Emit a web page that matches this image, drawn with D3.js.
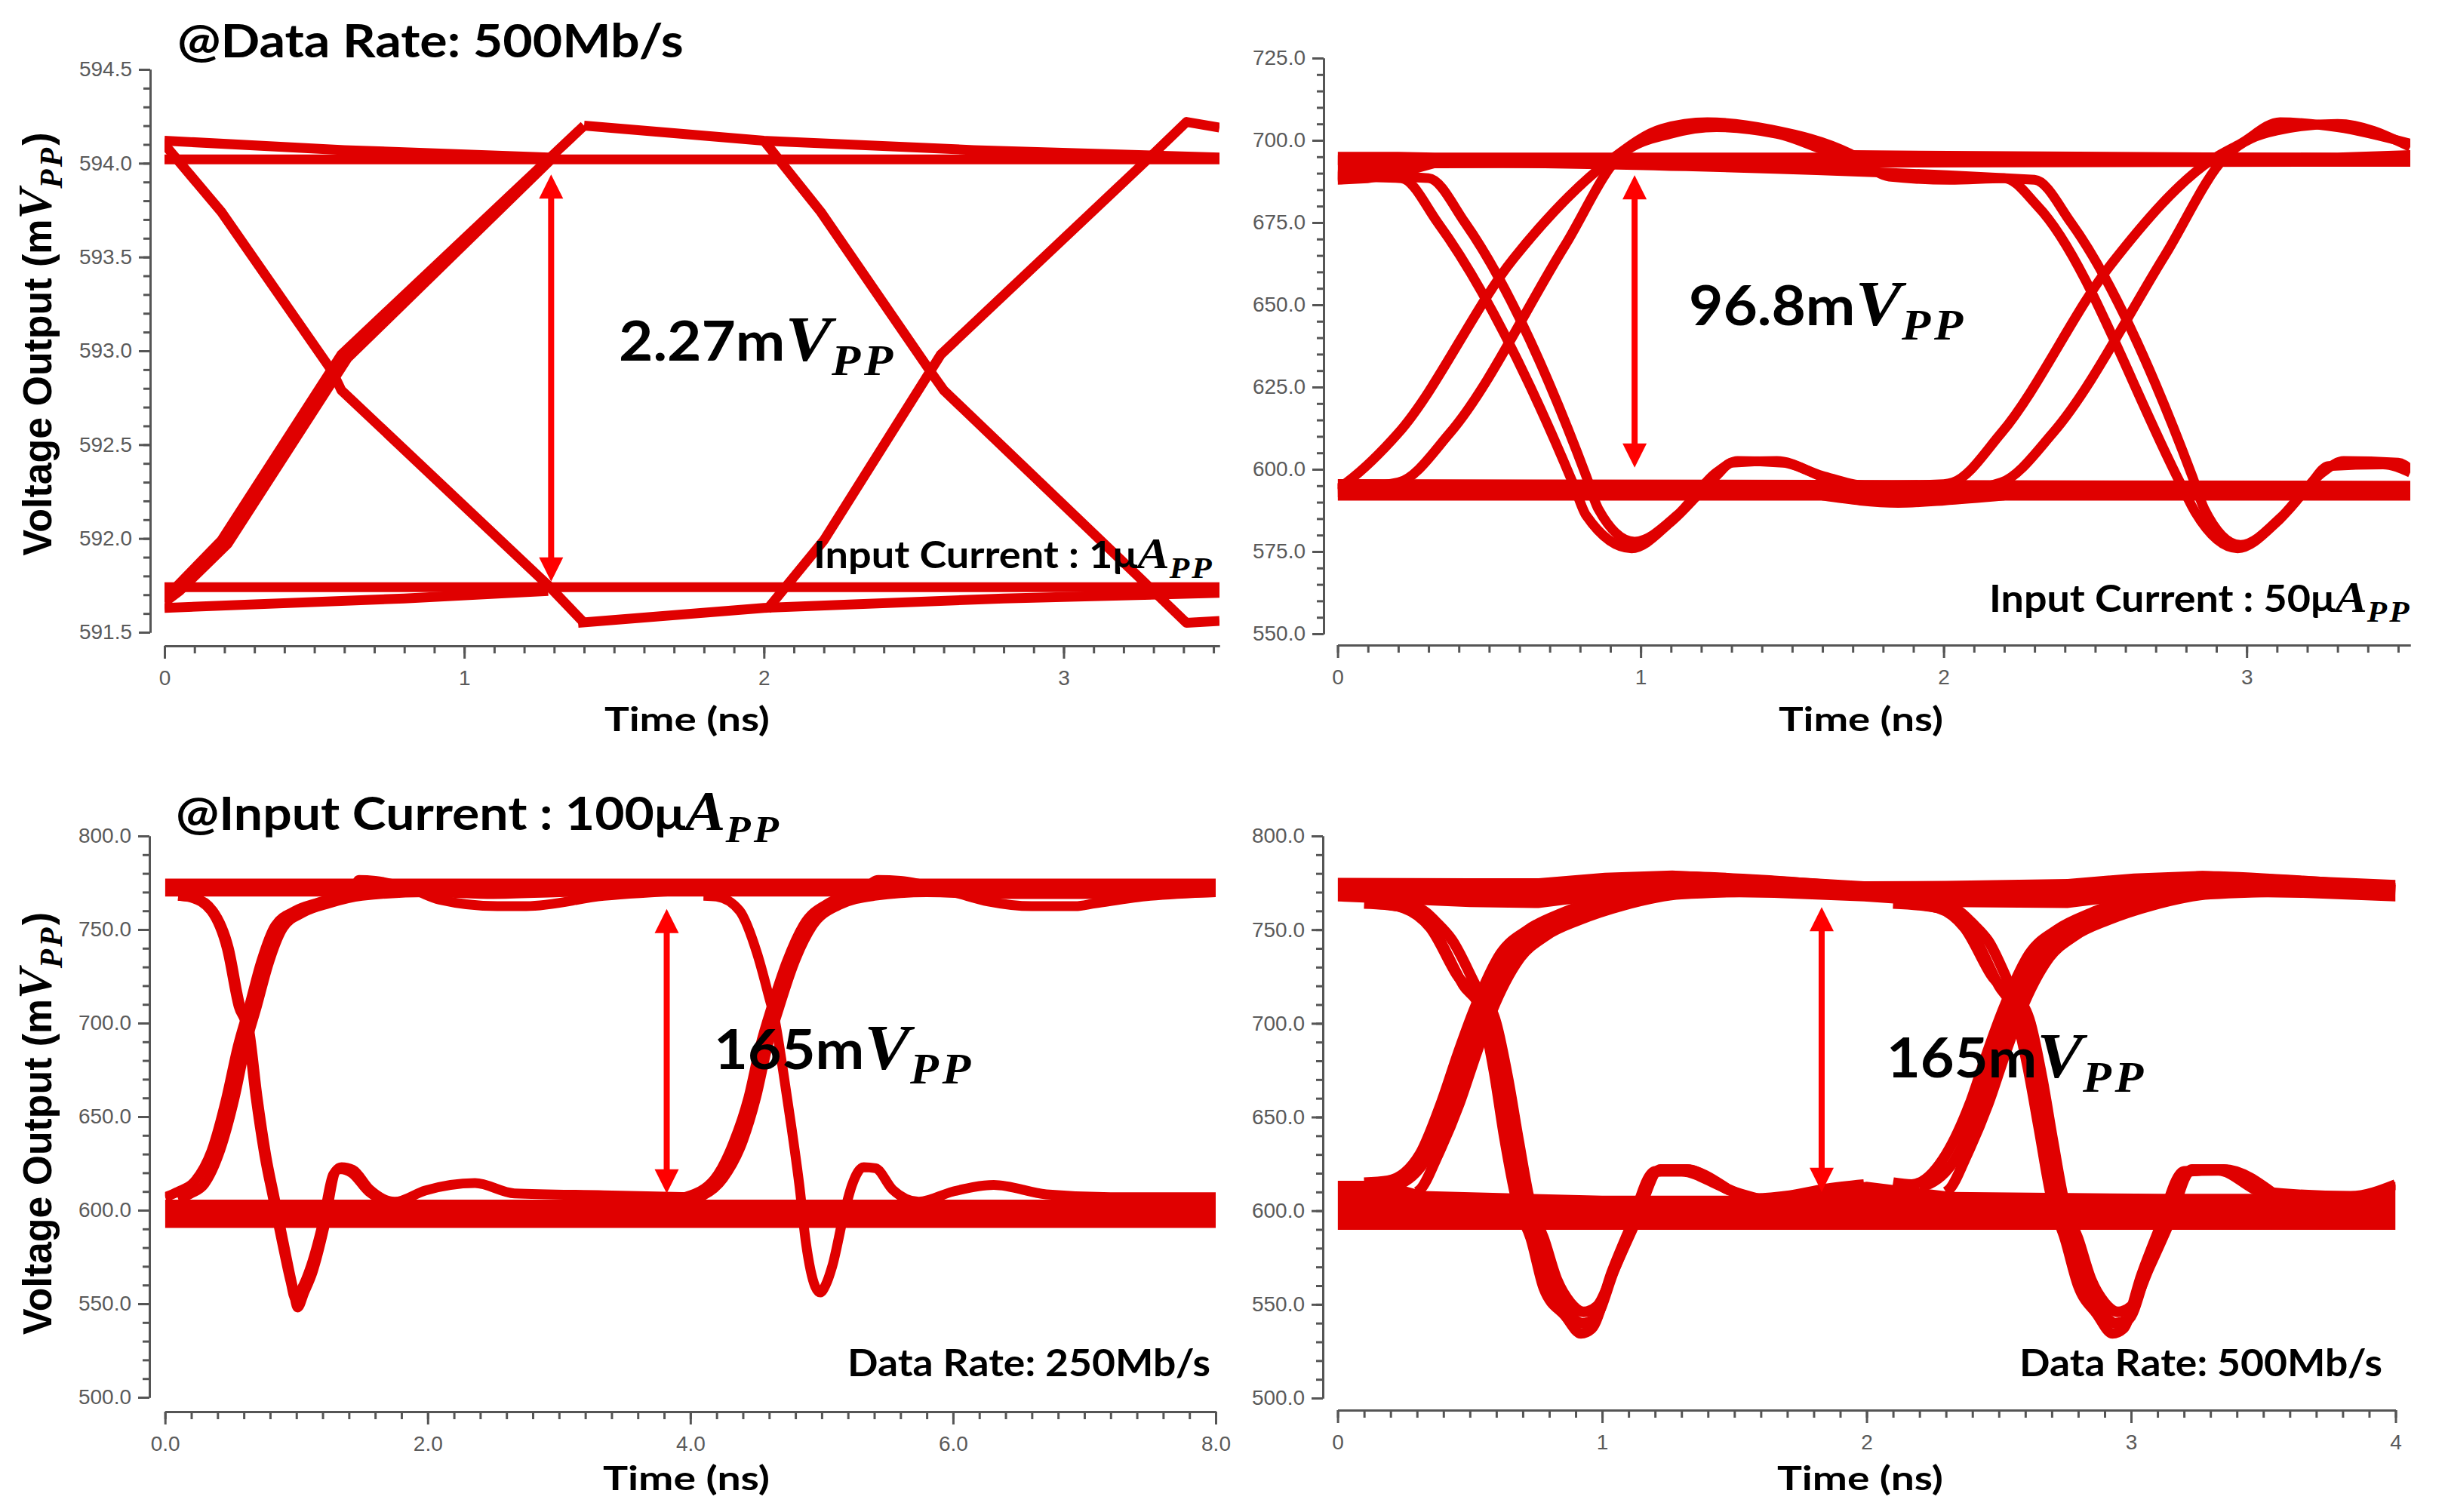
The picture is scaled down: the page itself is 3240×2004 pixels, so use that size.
<!DOCTYPE html>
<html><head><meta charset="utf-8">
<script src="https://cdn.jsdelivr.net/npm/d3@7"></script>
<style>body{margin:0;background:#fff}svg{display:block}</style>
</head><body>
<svg id="c" width="3240" height="2004"></svg>
<script>
// ---------------- DATA ----------------
// Panel 1 : 1 uApp, 500 Mb/s  (time ns, mV)
const p1YTicks = [591.5, 592.0, 592.5, 593.0, 593.5, 594.0, 594.5];
const p1XTicks = [0, 1, 2, 3];
const p1Bands = [];
const p1Traces = [
  [[0,594.02],[3.52,594.02]],
  [[0,594.12],[0.6,594.07],[1.3,594.03]],
  [[1.40,594.2],[2.0,594.12],[2.7,594.07],[3.52,594.03]],
  [[0,591.74],[3.52,591.74]],
  [[0,591.63],[0.8,591.68],[1.28,591.72]],
  [[1.38,591.55],[2.0,591.63],[2.8,591.68],[3.52,591.71]],
  [[0,591.69],[0.02,591.71],[0.19,591.99],[0.59,592.98],[1.28,594.02],[1.40,594.2]],
  [[0,591.66],[0.05,591.72],[0.21,591.97],[0.61,592.96],[1.29,594.02]],
  [[0,594.1],[0.19,593.74],[0.56,592.89],[0.59,592.79],[1.28,591.75],[1.40,591.55]],
  [[2.01,591.62],[2.2,591.99],[2.59,592.98],[3.28,594.02],[3.41,594.22],[3.52,594.19]],
  [[2.0,594.12],[2.19,593.74],[2.56,592.88],[2.6,592.79],[3.28,591.75],[3.41,591.55],[3.52,591.56]]
];
const p1Arrow = [1.29, 593.94, 591.77];

// Panel 2 : 50 uApp, 500 Mb/s
const p2YTicks = [550, 575, 600, 625, 650, 675, 700, 725];
const p2XTicks = [0, 1, 2, 3];
const p2Bands = [
  [[0,686.5,696.5],[0.1,687,696.5],[0.2,688.5,696.5],[0.32,691.5,696.3],[3.3,692,696.3],[3.54,692,697]],
  [[0,590.5,597],[3.54,590.5,596.5]]
];
const p2Traces = [
  [[0,594],[0.03,596],[0.2,611],[0.58,664],[0.9,694],[1.07,703.5],[1.22,705.5],[1.43,703.3],[1.69,696],[1.82,689],[2.02,688],[2.2,688.5],[2.31,680],[2.78,596],[2.83,587],[2.97,576],[3.1,584],[3.21,595.5],[3.27,601],[3.45,601.5],[3.54,599]],
  [[0,594],[0.2,596],[0.37,611],[0.75,668],[0.94,696],[1.1,702],[1.25,704],[1.45,702],[1.69,695.5],[3.54,694.5]],
  [[0,689],[0.21,688.5],[0.33,675],[0.78,595],[0.82,586],[0.97,576],[1.1,584],[1.25,598],[1.3,602],[1.45,602.5],[1.6,598],[1.75,595],[2.0,595.5],[2.03,596],[2.19,611],[2.55,662],[2.89,694.4],[2.98,699],[3.11,705.5],[3.3,704],[3.54,699]],
  [[0,689.5],[0.3,688.5],[0.42,675],[0.82,598],[0.86,588],[0.98,578],[1.12,586],[1.25,599],[1.32,602.5],[1.47,602],[1.62,597],[1.8,594],[3.54,594]],
  [[0,593],[2.0,593],[2.19,596],[2.36,611],[2.73,665],[2.93,695],[3.1,703],[3.3,705],[3.54,698]],
  [[0,694],[2.3,688],[2.42,675],[2.82,598],[2.86,588],[2.98,577],[3.12,586],[3.25,599],[3.32,602.5],[3.5,602],[3.54,600]],
  [[1.6,592],[1.85,589.8],[2.0,590.5],[2.2,592]]
];
const p2Arrow = [0.98, 689.4, 600.5];

// Panel 3 : 100 uApp, 250 Mb/s
const p3YTicks = [500, 550, 600, 650, 700, 750, 800];
const p3XTicks = [0, 2, 4, 6, 8];
const p3Bands = [
  [[0,767.6,777.2],[8,767.6,777.2]],
  [[0,590.5,605.6],[8,590.5,605.6]]
];
const p3Traces = [
  [[0.1,768],[0.22,767],[0.365,760],[0.486,740],[0.574,709],[0.64,696.8],[0.706,659.7],[0.772,628.8],[0.838,605.6],[0.904,582.5],[0.97,560],[1.01,548],[1.06,556],[1.124,567],[1.21,590],[1.3,621],[1.344,623],[1.43,621.6],[1.56,611],[1.75,604.5],[1.98,610.5],[2.36,614.5],[2.66,609],[3.34,608],[4.0,607]],
  [[0.1,768],[0.2,767],[0.35,760],[0.47,740],[0.56,709],[0.625,697],[0.69,660],[0.757,629],[0.823,606],[0.89,583],[0.955,562],[0.99,553],[1.04,558],[1.11,570],[1.2,593],[1.28,619],[1.33,622],[1.42,620],[1.55,610],[1.75,604]],
  [[0,607],[0.1,610],[0.22,615],[0.355,632],[0.465,659.7],[0.553,687.5],[0.64,709],[0.728,732],[0.838,752],[0.99,760],[1.17,764.5],[1.43,770],[1.476,776.5],[1.6,776],[1.9,771],[2.09,766],[2.53,762.5],[2.75,762.5],[3.34,768],[4.0,771]],
  [[0.1,606],[0.2,609],[0.3,614],[0.42,632],[0.53,660],[0.615,688],[0.7,709],[0.79,732],[0.9,751],[1.05,759],[1.25,764],[1.5,768],[2.0,770],[2.5,769],[3.0,770],[4.0,771]],
  [[4.1,768],[4.2,767.6],[4.375,760],[4.51,736.8],[4.6,713.7],[4.64,702.8],[4.705,675],[4.77,644.2],[4.83,613.3],[4.88,582.5],[4.95,559.3],[4.99,556],[5.03,560],[5.08,570],[5.17,598],[5.23,613.3],[5.32,623],[5.41,622.4],[5.54,611],[5.74,604.5],[6.0,610],[6.31,613.5],[6.71,608.5],[7.2,607],[8.0,607]],
  [[3.9,606],[3.96,607.1],[4.18,616.4],[4.33,636.5],[4.44,659.7],[4.53,687.5],[4.62,709],[4.73,732.1],[4.86,752.2],[5.06,764.5],[5.3,770],[5.43,776.5],[5.6,776],[6.0,770],[6.27,765],[6.6,762.5],[6.93,762.5],[7.08,764],[7.5,768],[8.0,770]],
  [[4.0,606],[4.1,608],[4.25,617],[4.4,637],[4.5,660],[4.59,688],[4.68,709],[4.79,732],[4.93,752],[5.13,763],[5.4,768],[5.8,770],[6.3,769],[7.0,769],[8.0,770]]
];
const p3Arrow = [3.82, 761, 609];

// Panel 4 : 100 uApp, 500 Mb/s
const p4YTicks = [500, 550, 600, 650, 700, 750, 800];
const p4XTicks = [0, 1, 2, 3, 4];
const p4Bands = [
  [[0,765.1,777.7],[0.5,762,777.5],[0.76,761.5,777.5],[1.01,766,780.4],[1.265,767.8,781.6],[1.65,767,778.7],[1.99,765.1,775.8],[2.3,762,776],[2.76,761.5,777],[3.01,766,780],[3.27,767.8,781.4],[3.65,767,778.7],[4.0,765.1,776.5]],
  [[0,589.8,616],[0.18,589.8,616],[0.32,589.8,610.5],[1.0,589.8,608],[1.7,589.8,608],[1.84,589.8,612],[2.0,589.8,615.5],[2.2,589.8,612],[2.32,589.8,610],[3.12,589.8,609],[3.51,589.8,609],[3.83,589.8,608.5],[4.0,589.8,615.4]]
];
const p4Traces = [
  [[0.1,615],[0.19,616],[0.31,630],[0.39,657],[0.455,684],[0.515,707],[0.615,737],[0.72,750],[0.85,759],[1.01,767],[1.265,778.5],[1.65,776],[2.0,772]],
  [[0.2,613],[0.24,614.5],[0.345,630],[0.425,657],[0.49,684],[0.55,707],[0.65,736],[0.755,749],[0.88,757],[1.05,765],[1.3,772],[1.7,773],[2.0,771]],
  [[0.3,610],[0.31,611],[0.38,630],[0.46,657],[0.525,684],[0.585,707],[0.685,734],[0.79,747],[0.91,755],[1.08,763],[1.3,769],[1.8,771]],
  [[0.1,764],[0.18,763.3],[0.31,759.7],[0.375,747.1],[0.476,720.2],[0.54,707.6],[0.59,675.2],[0.63,639.3],[0.68,603.3],[0.73,585.3],[0.78,558.4],[0.86,544],[0.92,534.5],[0.96,537],[1.037,567.4],[1.1,589],[1.2,621],[1.3,621],[1.46,612.5],[1.58,606.5],[1.71,608],[1.84,611.5],[1.99,614]],
  [[0.2,764],[0.3,762],[0.38,753],[0.43,745],[0.53,718],[0.6,700],[0.645,670],[0.685,637],[0.73,603],[0.78,585],[0.83,563],[0.88,551],[0.93,546],[0.98,549],[1.05,570],[1.12,592],[1.22,622],[1.32,622],[1.48,611],[1.6,606]],
  [[0.15,764],[0.25,761.5],[0.35,751],[0.45,726],[0.57,704],[0.62,672],[0.66,638],[0.71,603],[0.76,585],[0.81,560],[0.87,546],[0.925,540],[0.97,542],[1.045,568],[1.11,590],[1.21,621],[1.31,622],[1.47,612]],
  [[2.1,615],[2.17,614],[2.3,630],[2.39,657],[2.455,684],[2.515,707],[2.615,737],[2.72,750],[2.85,759],[3.01,767],[3.27,778.5],[3.65,776],[4.0,772]],
  [[2.2,613],[2.24,614.5],[2.345,630],[2.425,657],[2.49,684],[2.55,707],[2.65,736],[2.755,749],[2.88,757],[3.05,765],[3.3,772],[3.7,773],[4.0,771]],
  [[2.3,610],[2.31,611],[2.38,630],[2.46,657],[2.525,684],[2.585,707],[2.685,734],[2.79,747],[2.91,755],[3.08,763],[3.3,769],[3.8,771]],
  [[2.1,764],[2.2,763],[2.31,760],[2.41,745.4],[2.5,720],[2.56,706],[2.61,676],[2.65,645],[2.7,606],[2.75,585],[2.8,560],[2.87,545],[2.93,534.5],[2.97,537],[3.04,566],[3.1,588],[3.2,621],[3.33,621.5],[3.5,610],[3.83,607.7],[4.0,614]],
  [[2.2,764],[2.32,762],[2.41,752],[2.46,744],[2.55,718],[2.62,700],[2.665,670],[2.705,637],[2.75,603],[2.8,585],[2.85,563],[2.9,551],[2.95,546],[3.0,549],[3.07,570],[3.14,592],[3.23,622],[3.35,622],[3.55,608]],
  [[2.15,764],[2.27,761.5],[2.37,751],[2.47,726],[2.59,704],[2.64,672],[2.68,638],[2.73,603],[2.78,585],[2.83,560],[2.89,546],[2.94,540],[2.99,542],[3.06,568],[3.13,590],[3.22,621],[3.34,622],[3.52,611]]
];
const p4Arrow = [1.83, 762, 610];

// ---------------- DRAWING ----------------
const RED = "#e00000", ARROW = "#ff0000", AXIS = "#555";
const fontCal = "Lato, 'Open Sans', 'Liberation Sans', sans-serif";
const fontMath = "'Liberation Serif', 'DejaVu Serif', serif";
const svg = d3.select("#c");
svg.append("rect").attr("width",3240).attr("height",2004).attr("fill","#fff");
const defs = svg.append("defs");

const panels = [
  {id:1, xd:[0,3.52], xr:[218,1616], yd:[591.5,594.5], yr:[838,92], yAxisX:199, xAxisY:856,
   xTicks:p1XTicks, xMinor:d3.range(0,36).map(i=>i/10), yTicks:p1YTicks, yMinor:d3.range(0,31).map(i=>591.5+i/10),
   xFmt:d3.format("d"), yFmt:d3.format(".1f"), bands:p1Bands, traces:p1Traces, sw:13, curve:d3.curveLinear, arrow:p1Arrow},
  {id:2, xd:[0,3.54], xr:[1772.6,3194], yd:[550,725], yr:[840,77], yAxisX:1754, xAxisY:855,
   xTicks:p2XTicks, xMinor:d3.range(0,36).map(i=>i/10), yTicks:p2YTicks, yMinor:d3.range(0,36).map(i=>550+i*5),
   xFmt:d3.format("d"), yFmt:d3.format(".1f"), bands:p2Bands, traces:p2Traces, sw:13, curve:d3.curveMonotoneX, arrow:p2Arrow},
  {id:3, xd:[0,8], xr:[218.7,1611], yd:[500,800], yr:[1852,1108], yAxisX:198, xAxisY:1871,
   xTicks:p3XTicks, xMinor:d3.range(0,41).map(i=>i/5), yTicks:p3YTicks, yMinor:d3.range(0,31).map(i=>500+i*10),
   xFmt:d3.format(".1f"), yFmt:d3.format(".1f"), bands:p3Bands, traces:p3Traces, sw:13, curve:d3.curveMonotoneX, arrow:p3Arrow},
  {id:4, xd:[0,4], xr:[1772.6,3174.5], yd:[500,800], yr:[1853,1108], yAxisX:1753, xAxisY:1869,
   xTicks:p4XTicks, xMinor:d3.range(0,41).map(i=>i/10), yTicks:p4YTicks, yMinor:d3.range(0,31).map(i=>500+i*10),
   xFmt:d3.format("d"), yFmt:d3.format(".1f"), bands:p4Bands, traces:p4Traces, sw:14, curve:d3.curveMonotoneX, arrow:p4Arrow}
];

function styleAxis(g){
  g.selectAll("path,line").attr("stroke", AXIS).attr("stroke-width", 3);
  g.selectAll("text").attr("fill","#5a5a5a").attr("font-family","'Liberation Sans', Arial, sans-serif").attr("font-size",28);
}

panels.forEach(cfg=>{
  const x = d3.scaleLinear().domain(cfg.xd).range(cfg.xr);
  const y = d3.scaleLinear().domain(cfg.yd).range(cfg.yr);
  const g = svg.append("g");
  const cid = "clip"+cfg.id;
  defs.append("clipPath").attr("id",cid).append("rect")
    .attr("x",cfg.xr[0]).attr("y",cfg.yr[1]-80).attr("width",cfg.xr[1]-cfg.xr[0]).attr("height",cfg.yr[0]-cfg.yr[1]+160);
  const plot = g.append("g").attr("clip-path",`url(#${cid})`);
  const area = d3.area().x(d=>x(d[0])).y0(d=>y(d[1])).y1(d=>y(d[2]));
  cfg.bands.forEach(b=>plot.append("path").attr("d",area(b)).attr("fill",RED));
  const line = d3.line().x(d=>x(d[0])).y(d=>y(d[1])).curve(cfg.curve);
  cfg.traces.forEach(t=>plot.append("path").attr("d",line(t)).attr("fill","none")
    .attr("stroke",RED).attr("stroke-width",cfg.sw).attr("stroke-linejoin","round"));

  const yMin = g.append("g").attr("transform",`translate(${cfg.yAxisX},0)`)
    .call(d3.axisLeft(y).tickValues(cfg.yMinor).tickSize(9).tickSizeOuter(0).tickFormat(""));
  const yMaj = g.append("g").attr("transform",`translate(${cfg.yAxisX},0)`)
    .call(d3.axisLeft(y).tickValues(cfg.yTicks).tickSize(15).tickSizeOuter(0).tickPadding(9).tickFormat(cfg.yFmt));
  const xMin = g.append("g").attr("transform",`translate(0,${cfg.xAxisY})`)
    .call(d3.axisBottom(x).tickValues(cfg.xMinor).tickSize(10).tickSizeOuter(0).tickFormat(""));
  const xMaj = g.append("g").attr("transform",`translate(0,${cfg.xAxisY})`)
    .call(d3.axisBottom(x).tickValues(cfg.xTicks).tickSize(17).tickSizeOuter(0).tickPadding(15).tickFormat(cfg.xFmt));
  [yMin,yMaj,xMin,xMaj].forEach(styleAxis);

  const a = cfg.arrow, cx = x(a[0]), yt = y(a[1]), yb = y(a[2]), hl = 32, hw = 16;
  g.append("line").attr("x1",cx).attr("x2",cx).attr("y1",yt+hl-4).attr("y2",yb-hl+4)
    .attr("stroke",ARROW).attr("stroke-width",8);
  g.append("path").attr("d",`M${cx},${yt}L${cx-hw},${yt+hl}L${cx+hw},${yt+hl}Z`).attr("fill",ARROW);
  g.append("path").attr("d",`M${cx},${yb}L${cx-hw},${yb-hl}L${cx+hw},${yb-hl}Z`).attr("fill",ARROW);
});

// ---------------- TEXT ----------------
function label(parts, o){
  const t = svg.append("text").attr("font-family", o.family || fontCal).attr("font-weight",700)
    .attr("font-size",o.size).attr("fill","#000");
  parts.forEach(p=>{
    const s = t.append("tspan").text(p[0]);
    if(p[1]==="v") s.attr("font-family",fontMath).attr("font-style","italic").attr("font-weight",700).attr("font-size",o.size*1.18);
    if(p[1]==="s") s.attr("font-family",fontMath).attr("font-style","italic").attr("font-weight",700).attr("font-size",o.size*0.8).attr("dy",o.size*0.26).attr("letter-spacing",o.size*0.06);
    if(p[1]==="r") s.attr("dy",-o.size*0.26);
  });
  const w = t.node().getComputedTextLength();
  const sx = o.w / w;
  if(o.rot){
    t.attr("text-anchor","middle").attr("transform",`translate(${o.x},${o.cy}) rotate(-90) scale(${sx},1)`);
  } else {
    t.attr("transform",`translate(${o.x},${o.base}) scale(${sx},1)`);
  }
}

const vpp = [["V","v"],["PP","s"]];
label([["@Data Rate: 500Mb/s","n"]], {x:235, w:671, base:76, size:61});
label([["@Input Current : 100μ","n"],["A","v"],["PP","s"]], {x:233, w:803, base:1100, size:62});
label([["2.27m","n"], ...vpp], {x:820, w:368, base:478, size:72});
label([["96.8m","n"], ...vpp], {x:2238, w:368, base:431, size:72});
label([["165m","n"], ...vpp], {x:946, w:345, base:1417, size:72});
label([["165m","n"], ...vpp], {x:2500, w:345, base:1428, size:72});
label([["Input Current : 1μ","n"],["A","v"],["PP","s"]], {x:1078, w:531, base:753, size:49});
label([["Input Current : 50μ","n"],["A","v"],["PP","s"]], {x:2636, w:560, base:811, size:49});
label([["Data Rate: 250Mb/s","n"]], {x:1123, w:481, base:1824, size:50});
label([["Data Rate: 500Mb/s","n"]], {x:2676, w:481, base:1824, size:50});
label([["Time (ns)","n"]], {x:801, w:219, base:969, size:44});
label([["Time (ns)","n"]], {x:2357, w:218, base:969, size:44});
label([["Time (ns)","n"]], {x:799, w:221, base:1975, size:44});
label([["Time (ns)","n"]], {x:2355, w:220, base:1975, size:44});
const ylab = [["Voltage Output (m","n"],["V","v"],["PP","s"],[")","r"]];
label(ylab, {x:68, cy:456, w:561, size:54, rot:true, family:"'Liberation Sans', Arial, sans-serif"});
label(ylab, {x:68, cy:1489, w:560, size:54, rot:true, family:"'Liberation Sans', Arial, sans-serif"});
</script>
</body></html>
